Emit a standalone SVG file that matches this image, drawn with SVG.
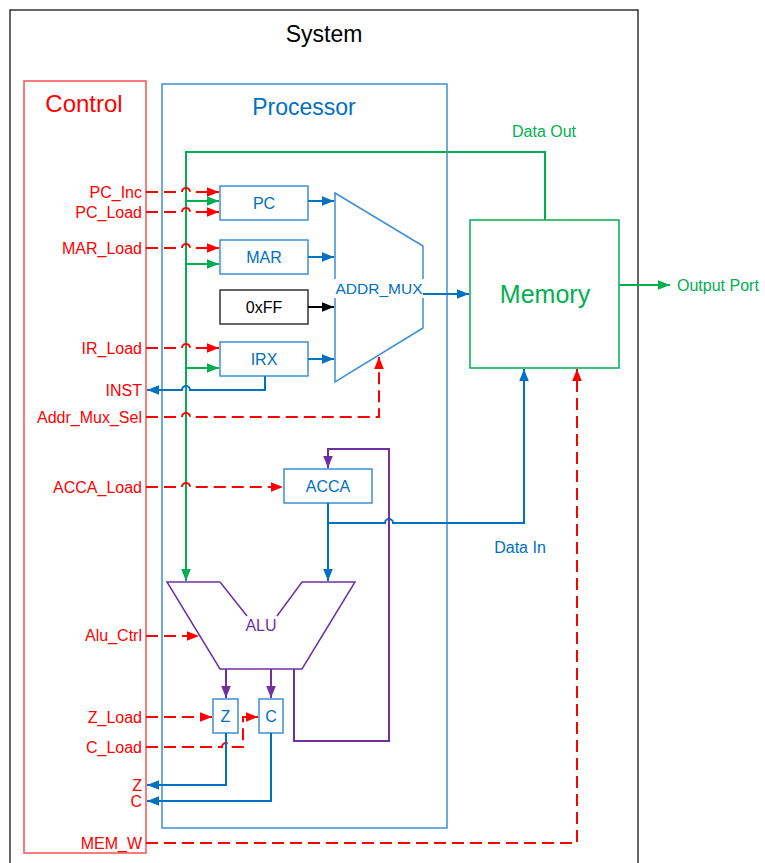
<svg xmlns="http://www.w3.org/2000/svg" width="765" height="863" viewBox="0 0 765 863">
<defs>
<style>
text{font-family:"Liberation Sans",Arial,sans-serif}
.lbl{font-size:16px;fill:#FF0000;text-anchor:end}
.bt{font-size:16px;fill:#0070C0;text-anchor:middle}
.box{fill:#fff;stroke:#3C8FD6;stroke-width:1.5}
.rd{fill:none;stroke:#FF0000;stroke-width:2;stroke-dasharray:12 6}
.bl{fill:none;stroke:#0070C0;stroke-width:2}
.gr{fill:none;stroke:#00B050;stroke-width:2}
.pu{fill:none;stroke:#7030A0;stroke-width:2}
.bk{fill:none;stroke:#000;stroke-width:2}
</style>
<marker id="aR" viewBox="0 0 10 8" refX="10" refY="4" markerWidth="12" markerHeight="10" markerUnits="userSpaceOnUse" orient="auto"><path d="M0,0L10,4L0,8z" fill="#FF0000"/></marker>
<marker id="aB" viewBox="0 0 10 8" refX="10" refY="4" markerWidth="12" markerHeight="10" markerUnits="userSpaceOnUse" orient="auto"><path d="M0,0L10,4L0,8z" fill="#0070C0"/></marker>
<marker id="aG" viewBox="0 0 10 8" refX="10" refY="4" markerWidth="12" markerHeight="10" markerUnits="userSpaceOnUse" orient="auto"><path d="M0,0L10,4L0,8z" fill="#00B050"/></marker>
<marker id="aP" viewBox="0 0 10 8" refX="10" refY="4" markerWidth="12" markerHeight="10" markerUnits="userSpaceOnUse" orient="auto"><path d="M0,0L10,4L0,8z" fill="#7030A0"/></marker>
<marker id="aK" viewBox="0 0 10 8" refX="10" refY="4" markerWidth="12" markerHeight="10" markerUnits="userSpaceOnUse" orient="auto"><path d="M0,0L10,4L0,8z" fill="#000"/></marker>
</defs>
<rect width="765" height="863" fill="#fff"/>

<g id="system">
<rect x="10" y="10" width="628" height="870" fill="none" stroke="#000" stroke-width="1.2"/>
<text x="324" y="42" font-size="23" text-anchor="middle" fill="#000">System</text>
</g>

<g id="control">
<rect x="24" y="81" width="122" height="772" fill="none" stroke="#FF5050" stroke-width="1.5"/>
<text x="84" y="112" font-size="24" text-anchor="middle" fill="#FF0000">Control</text>
<text class="lbl" x="142" y="197.5">PC_Inc</text>
<text class="lbl" x="142" y="217.5">PC_Load</text>
<text class="lbl" x="142" y="253.5">MAR_Load</text>
<text class="lbl" x="142" y="354">IR_Load</text>
<text class="lbl" x="142" y="396">INST</text>
<text class="lbl" x="142" y="422.5">Addr_Mux_Sel</text>
<text class="lbl" x="142" y="492.5">ACCA_Load</text>
<text class="lbl" x="142" y="641">Alu_Ctrl</text>
<text class="lbl" x="142" y="722.5">Z_Load</text>
<text class="lbl" x="142" y="752.5">C_Load</text>
<text class="lbl" x="142" y="790.5">Z</text>
<text class="lbl" x="142" y="806.5">C</text>
<text class="lbl" x="142" y="848.5">MEM_W</text>
</g>

<g id="processor">
<rect x="162" y="84" width="285" height="744" fill="none" stroke="#3C8FD6" stroke-width="1.5"/>
<text x="304" y="115" font-size="23" text-anchor="middle" fill="#0070C0">Processor</text>
</g>

<g id="memory">
<rect x="470" y="220" width="149" height="148" fill="#fff" stroke="#00B050" stroke-width="1.5"/>
<text x="545" y="303" font-size="25" text-anchor="middle" fill="#00B050">Memory</text>
</g>

<g id="pc"><rect class="box" x="220" y="186" width="88" height="34"/><text class="bt" x="264" y="208.5">PC</text></g>
<g id="mar"><rect class="box" x="220" y="240" width="88" height="34"/><text class="bt" x="264" y="262.5">MAR</text></g>
<g id="oxff"><rect x="220" y="290" width="88" height="34" fill="#fff" stroke="#333" stroke-width="1.5"/><text x="264" y="312.5" font-size="16" text-anchor="middle" fill="#000">0xFF</text></g>
<g id="irx"><rect class="box" x="220" y="342" width="88" height="34"/><text class="bt" x="264" y="364.5">IRX</text></g>
<g id="acca"><rect class="box" x="284" y="469" width="88" height="34"/><text class="bt" x="328" y="491.5">ACCA</text></g>
<g id="zreg"><rect class="box" x="213" y="699" width="25" height="34"/><text class="bt" x="225.5" y="721.5">Z</text></g>
<g id="creg"><rect class="box" x="259" y="699" width="24" height="34"/><text class="bt" x="271" y="721.5">C</text></g>

<g id="addr_mux">
<polygon points="335,193 423,246 423,328 335,382" fill="#fff" stroke="#3C8FD6" stroke-width="1.5"/>
<rect x="333" y="279" width="92" height="19" fill="#fff"/>
<text x="379" y="294" font-size="15.5" text-anchor="middle" fill="#0070C0">ADDR_MUX</text>
</g>

<g id="alu">
<path d="M220,582 H167 L220,669 H302 L355,582 H302 L277,616 M220,582 L247,616" fill="none" stroke="#7030A0" stroke-width="1.5"/>
<text x="261" y="631" font-size="16" text-anchor="middle" fill="#7030A0">ALU</text>
</g>

<g id="connectors">
<path class="gr" d="M545,220 V152 H186 V581" marker-end="url(#aG)"/>
<path class="gr" d="M186,201 H219" marker-end="url(#aG)"/>
<path class="gr" d="M186,264 H219" marker-end="url(#aG)"/>
<path class="gr" d="M186,368 H219" marker-end="url(#aG)"/>
<path class="gr" d="M619,285 H670" marker-end="url(#aG)"/>
<path class="rd" d="M146,192 H182 A4,4 0 0 1 190,192 H219" marker-end="url(#aR)"/>
<path class="rd" d="M146,212 H182 A4,4 0 0 1 190,212 H219" marker-end="url(#aR)"/>
<path class="rd" d="M146,248 H182 A4,4 0 0 1 190,248 H219" marker-end="url(#aR)"/>
<path class="rd" d="M146,348 H182 A4,4 0 0 1 190,348 H219" marker-end="url(#aR)"/>
<path class="rd" d="M146,417 H182 A4,4 0 0 1 190,417 H379 V357" marker-end="url(#aR)"/>
<path class="rd" d="M146,487 H182 A4,4 0 0 1 190,487 H283" marker-end="url(#aR)"/>
<path class="rd" d="M146,636 H199" marker-end="url(#aR)"/>
<path class="rd" d="M146,717 H212" marker-end="url(#aR)"/>
<path class="rd" d="M146,747 H222 A4,4 0 0 1 230,747 H243 V717 H258" marker-end="url(#aR)"/>
<path class="rd" d="M146,843 H577 V369" marker-end="url(#aR)"/>
<path class="bl" d="M308,201 H334" marker-end="url(#aB)"/>
<path class="bl" d="M308,257 H334" marker-end="url(#aB)"/>
<path class="bl" d="M308,359 H334" marker-end="url(#aB)"/>
<path class="bk" d="M308,307 H334" marker-end="url(#aK)"/>
<path class="bl" d="M265,376 V390 H190 A4,4 0 0 0 182,390 H147" marker-end="url(#aB)"/>
<path class="bl" d="M423,294 H469" marker-end="url(#aB)"/>
<path class="bl" d="M328,503 V581" marker-end="url(#aB)"/>
<path class="bl" d="M328,523 H385 A4,4 0 0 1 393,523 H524 V369" marker-end="url(#aB)"/>
<path class="bl" d="M226,733 V785 H147" marker-end="url(#aB)"/>
<path class="bl" d="M271,733 V801 H147" marker-end="url(#aB)"/>
<path class="pu" d="M226,669 V698" marker-end="url(#aP)"/>
<path class="pu" d="M271,669 V698" marker-end="url(#aP)"/>
<path class="pu" d="M294,669 V741 H389 V449 H328 V468" marker-end="url(#aP)"/>
</g>

<g id="labels">
<text x="544" y="136.5" font-size="16" text-anchor="middle" fill="#00B050">Data Out</text>
<text x="677" y="290.5" font-size="16" fill="#00B050">Output Port</text>
<text x="520" y="552.5" font-size="16" text-anchor="middle" fill="#0070C0">Data In</text>
</g>
</svg>
